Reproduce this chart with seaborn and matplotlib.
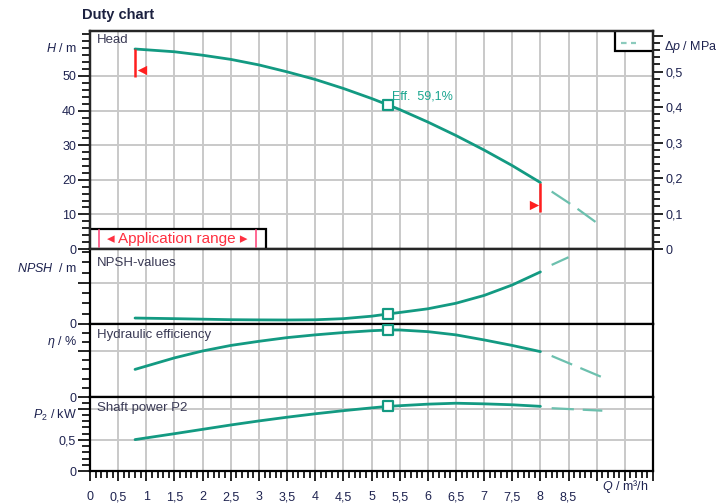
import matplotlib
matplotlib.use("Agg")
import matplotlib.pyplot as plt
from matplotlib.patches import Rectangle
from matplotlib.ticker import MultipleLocator, FixedLocator, FuncFormatter
import pandas as pd
import seaborn as sns

# ---- pump curve data (flow Q in m³/h) ----
flow = [0.8, 1.5, 2.0, 2.5, 3.0, 3.5, 4.0, 4.5, 5.0, 5.3, 5.5, 6.0, 6.5, 7.0, 7.5, 8.0]
head = [57.8, 57.0, 56.0, 54.8, 53.2, 51.2, 49.0, 46.4, 43.5, 41.6, 40.3, 36.7, 32.8, 28.6, 24.1, 19.2]
npsh = [0.58, 0.52, 0.47, 0.42, 0.40, 0.39, 0.41, 0.52, 0.76, 0.98, 1.12, 1.48, 2.02, 2.78, 3.80, 5.07]
efficiency = [30.0, 42.5, 50.0, 56.0, 60.5, 64.5, 67.5, 70.0, 72.0, 72.8, 72.8, 71.0, 67.5, 62.0, 56.0, 49.3]
power = [0.505, 0.60, 0.67, 0.74, 0.805, 0.865, 0.92, 0.97, 1.015, 1.04, 1.05, 1.075, 1.09, 1.08, 1.065, 1.04]

# curves beyond the application range (dashed)
flow_ext_head = [8.2, 8.6, 9.1]
head_ext = [16.6, 12.3, 6.4]
flow_ext_npsh = [8.2, 8.5]
npsh_ext = [5.75, 6.5]
flow_ext_eff = [8.2, 9.1]
eff_ext = [44.6, 21.4]
flow_ext_power = [8.2, 9.1]
power_ext = [1.01, 0.97]

# duty point (best efficiency)
duty_index = 9
duty_label = "Eff.  59,1%"

# application range limits
limit_q = [0.8, 8.0]
limit_top = [57.8, 19.2]
limit_bottom = [49.7, 10.8]
flag_q = [0.92, 7.88]
flag_h = [51.6, 12.7]
flag_markers = ["<", ">"]

x_tick_labels = ["0", "0,5", "1", "1,5", "2", "2,5", "3", "3,5", "4", "4,5",
                 "5", "5,5", "6", "6,5", "7", "7,5", "8", "8,5"]
dp_tick_labels = ["0", "0,1", "0,2", "0,3", "0,4", "0,5"]

TEAL = "#139a82"
TEAL_EXT = "#6cc0ae"
RED = "#ff1f1f"
PINK = "#ff5c8a"
GRID = "#c9c9c9"
TXT = "#1e2350"
LABEL = "#3a3a55"

sns.set_style("white")
plt.rcParams["font.family"] = ["Liberation Sans", "DejaVu Sans"]
plt.rcParams["mathtext.fontset"] = "custom"
plt.rcParams["mathtext.rm"] = "Liberation Sans"
plt.rcParams["mathtext.it"] = "Liberation Sans:italic"
plt.rcParams["mathtext.bf"] = "Liberation Sans:bold"

W, H = 724, 503
fig = plt.figure(figsize=(W / 100, H / 100), dpi=100)


def px(x, y):
    return x / W, 1 - y / H


def panel(top, bottom):
    return fig.add_axes([90 / W, 1 - bottom / H, 563 / W, (bottom - top) / H])


ax_h = panel(31, 249)
ax_n = panel(249, 324)
ax_e = panel(324, 397)
ax_p = panel(397, 471)

curve = pd.DataFrame({"Q": flow, "H": head, "NPSH": npsh, "eta": efficiency, "P2": power})


def frame(ax, ylim, major, labels, minor):
    ax.set_xlim(0, 10)
    ax.set_ylim(*ylim)
    ax.xaxis.set_major_locator(MultipleLocator(0.5))
    ax.yaxis.set_major_locator(FixedLocator(major))
    ax.yaxis.set_major_formatter(FuncFormatter(lambda v, i, lab=labels, mj=major: lab[mj.index(v)] if v in mj else ""))
    ax.yaxis.set_minor_locator(MultipleLocator(minor))
    ax.grid(True, which="major", color=GRID, lw=1.4)
    ax.set_axisbelow(True)
    for s in ax.spines.values():
        s.set_visible(True)
        s.set_color("black")
        s.set_linewidth(1.6)
    ax.tick_params(axis="y", which="major", left=True, direction="out", length=9, width=1.2,
                   labelsize=9, labelcolor=TXT, pad=1, color="black")
    ax.tick_params(axis="y", which="minor", left=True, direction="out", length=6, width=1.2, color="black")
    ax.tick_params(axis="x", which="both", bottom=False, length=0, labelbottom=False)
    ax.set_xlabel("")
    ax.set_ylabel("")


def draw(ax, col, ext_q, ext_v):
    sns.lineplot(data=curve, x="Q", y=col, ax=ax, color=TEAL, lw=2.0, zorder=3)
    sns.lineplot(x=ext_q, y=ext_v, ax=ax, color=TEAL_EXT, lw=1.6, linestyle=(0, (10, 4)), zorder=3)
    duty = curve.iloc[[duty_index]]
    sns.scatterplot(data=duty, x="Q", y=col, ax=ax, marker="s", s=45, facecolor="white",
                    edgecolor=TEAL, linewidth=1.6, zorder=4)


draw(ax_h, "H", flow_ext_head, head_ext)
draw(ax_n, "NPSH", flow_ext_npsh, npsh_ext)
draw(ax_e, "eta", flow_ext_eff, eff_ext)
draw(ax_p, "P2", flow_ext_power, power_ext)

frame(ax_h, (0, 63), [0, 10, 20, 30, 40, 50], ["0", "10", "20", "30", "40", "50"], 2)
frame(ax_n, (0, 7.3), [0, 4], ["0", ""], 1)
frame(ax_e, (0, 79.3), [0, 50], ["0", ""], 10)
frame(ax_p, (0, 1.19), [0, 0.5, 1.0], ["0", "0,5", ""], 0.1)

# flow axis at the bottom
ax_p.xaxis.set_minor_locator(MultipleLocator(0.1))
ax_p.xaxis.set_major_formatter(FuncFormatter(lambda v, i: x_tick_labels[int(round(v * 2))] if round(v * 2) < len(x_tick_labels) else ""))
ax_p.tick_params(axis="x", which="major", bottom=True, direction="out", length=7.5, width=1.2,
                 labelbottom=True, labelsize=9, labelcolor=TXT, pad=7, color="black")
ax_p.tick_params(axis="x", which="minor", bottom=True, direction="out", length=5, width=1.2, color="black")
ax_p.text(9.5, -0.1, r"$Q$ / m³/h", transform=ax_p.get_xaxis_transform(), ha="center", va="top",
          fontsize=9, color=TXT)

# pressure axis on the right of the head panel
ax_dp = ax_h.twinx()
ax_dp.set_ylim(0, 218 / 355)
ax_dp.yaxis.set_major_locator(MultipleLocator(0.1))
ax_dp.yaxis.set_major_formatter(FuncFormatter(lambda v, i: dp_tick_labels[int(round(v * 10))] if round(v * 10) < len(dp_tick_labels) else ""))
ax_dp.yaxis.set_minor_locator(MultipleLocator(0.02))
ax_dp.tick_params(axis="y", which="major", right=True, direction="out", length=7, width=1.2,
                  labelsize=9, labelcolor=TXT, pad=2, color="black")
ax_dp.tick_params(axis="y", which="minor", right=True, direction="out", length=5, width=1.2, color="black")
ax_dp.grid(False)
for s in ax_dp.spines.values():
    s.set_linewidth(1.6)

# application range limits
ax_h.vlines(limit_q, limit_bottom, limit_top, color=RED, lw=1.8, zorder=5)
for q, h, m in zip(flag_q, flag_h, flag_markers):
    sns.scatterplot(x=[q], y=[h], ax=ax_h, marker=m, s=45, color=RED, linewidth=0, zorder=5)

# duty point label
ax_h.text(curve.Q[duty_index] + 0.07, curve.H[duty_index] + 2.4, duty_label, color="#1aa58f",
          fontsize=9, va="center", ha="left", zorder=5)

# application range box
ax_h.add_patch(Rectangle((0, 0), 176 / 563, 20 / 218, transform=ax_h.transAxes, facecolor="white",
                         edgecolor="black", lw=1.6, zorder=6, clip_on=False))
ax_h.plot([9 / 563, 9 / 563], [0.01, 0.085], transform=ax_h.transAxes, color=PINK, lw=1.3, zorder=7)
ax_h.plot([166 / 563, 166 / 563], [0.01, 0.085], transform=ax_h.transAxes, color=PINK, lw=1.3, zorder=7)
ax_h.text(87.5 / 563, 10 / 218, "◂ Application range ▸", transform=ax_h.transAxes, ha="center",
          va="center", fontsize=11, color="#ff3040", zorder=7, family=["Liberation Sans", "DejaVu Sans"])

# legend box for the extrapolated curves
ax_h.add_patch(Rectangle((525 / 563, 198 / 218), 38 / 563, 20 / 218, transform=ax_h.transAxes,
                         facecolor="white", edgecolor="black", lw=1.6, zorder=6))
ax_h.plot([531 / 563, 546 / 563], [206 / 218, 206 / 218], transform=ax_h.transAxes, color="#8ccbbd",
          lw=1.6, linestyle=(0, (2.5, 2)), zorder=7)

# titles and axis captions
fig.text(*px(82, 15), "Duty chart", fontsize=10.5, fontweight="bold", color="#1c2140", va="center", ha="left")
fig.text(*px(97, 40), "Head", fontsize=9.5, color=LABEL, va="center", ha="left")
fig.text(*px(97, 263), "NPSH-values", fontsize=9.5, color=LABEL, va="center", ha="left")
fig.text(*px(97, 335), "Hydraulic efficiency", fontsize=9.5, color=LABEL, va="center", ha="left")
fig.text(*px(97, 408), "Shaft power P2", fontsize=9.5, color=LABEL, va="center", ha="left")

fig.text(*px(77, 48), r"$H$ / m", fontsize=9, color=TXT, va="center", ha="right")
fig.text(*px(77, 268), r"$NPSH$  / m", fontsize=9, color=TXT, va="center", ha="right")
fig.text(*px(77, 342), r"$\eta$ / %", fontsize=9, color=TXT, va="center", ha="right")
fig.text(*px(77, 415), r"$P_2$ / kW", fontsize=9, color=TXT, va="center", ha="right")
fig.text(*px(664, 47), r"$\Delta p$ / MPa", fontsize=9, color=TXT, va="center", ha="left")

fig.savefig("out.png", dpi=100)
